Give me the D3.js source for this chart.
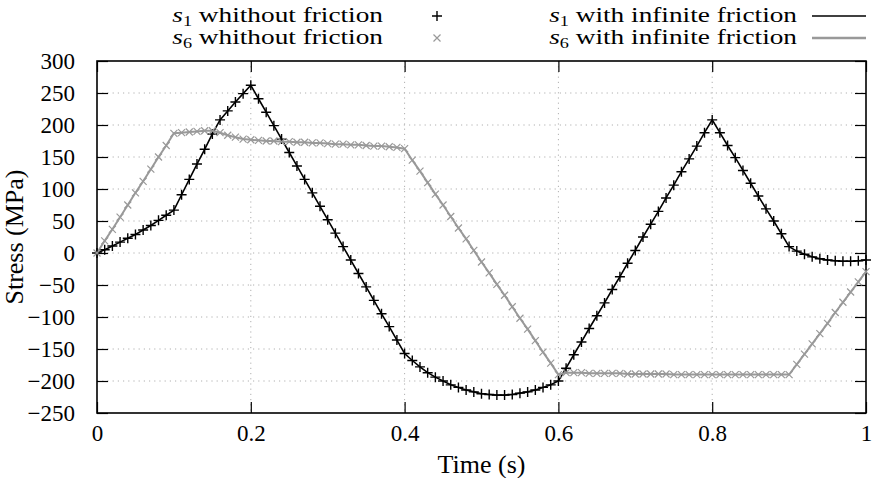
<!DOCTYPE html>
<html lang="en">
<head>
  <meta charset="UTF-8" />
  <title>Stress vs time</title>
  <script src="https://d3js.org/d3.v7.min.js"></script>
  <style>
    body { margin: 0; background: white; }
    svg { display: block; }
  </style>
</head>
<body>
  <div id="chart"></div>

  <script>
    // Data (sampled every 0.01 s)
    const timeStep = 0.01;
    const s1Values = [
      0, 5, 11, 17, 23, 29, 36, 43, 51, 59,
      67, 91, 115, 139, 162, 186, 208, 222, 236, 249,
      262, 241, 220, 199, 178, 157, 136, 115, 94, 73,
      52, 31, 10, -11, -32, -53, -74, -95, -115, -136,
      -157, -168, -178, -187, -194, -200, -206, -210, -214, -217,
      -220, -221, -222, -222, -221, -219, -217, -214, -210, -206,
      -200, -180, -159, -139, -118, -98, -78, -57, -37, -16,
      4, 25, 45, 65, 86, 106, 127, 147, 167, 188,
      208, 188, 168, 149, 129, 109, 89, 69, 50, 30,
      10, 3, -2, -6, -9, -11, -12, -13, -13, -12,
      -11
    ];
    const s6Values = [
      0, 19, 37, 56, 75, 94, 112, 131, 150, 168,
      187, 188, 189, 190, 191, 191, 188, 184, 181, 178,
      177, 176, 175, 175, 174, 174, 173, 173, 172, 172,
      171, 170, 170, 169, 169, 168, 167, 167, 166, 165,
      163, 145, 128, 110, 92, 75, 57, 39, 22, 4,
      -14, -31, -49, -66, -84, -102, -119, -137, -155, -172,
      -190, -187, -187, -187, -188, -188, -188, -188, -188, -189,
      -189, -189, -189, -189, -189, -190, -190, -190, -190, -190,
      -190, -190, -190, -190, -190, -190, -190, -190, -190, -190,
      -190, -174, -158, -142, -126, -110, -93, -77, -61, -45,
      -29
    ];
    const xTicks = [0, 0.2, 0.4, 0.6, 0.8, 1];
    const yTicks = [-250, -200, -150, -100, -50, 0, 50, 100, 150, 200, 250, 300];

    const width = 875, height = 478;
    const margin = { top: 61, right: 9, bottom: 65, left: 97 };
    const black = "#000", gray = "#999";
    const serif = '"Liberation Serif"';

    const svg = d3.select("#chart").append("svg")
      .attr("width", width).attr("height", height);

    const x = d3.scaleLinear().domain([0, 1]).range([margin.left, width - margin.right]);
    const y = d3.scaleLinear().domain([-250, 300]).range([height - margin.bottom, margin.top]);

    const s1 = s1Values.map((v, i) => ({ t: i * timeStep, v }));
    const s6 = s6Values.map((v, i) => ({ t: i * timeStep, v }));

    // grid
    const grid = svg.append("g").attr("stroke", "#b0b0b0").attr("stroke-dasharray", "1.2,4");
    grid.selectAll("line.gx").data(xTicks.slice(1, -1)).enter().append("line")
      .attr("x1", d => x(d)).attr("x2", d => x(d))
      .attr("y1", y(300)).attr("y2", y(-250));
    grid.selectAll("line.gy").data(yTicks.slice(1, -1)).enter().append("line")
      .attr("y1", d => y(d)).attr("y2", d => y(d))
      .attr("x1", x(0)).attr("x2", x(1));

    // axes, ticks pointing inward on all four sides
    const tick = 11;
    const axes = [
      svg.append("g").attr("transform", `translate(${x(0)},0)`)
        .call(d3.axisLeft(y).tickValues(yTicks).tickSize(-tick).tickPadding(22).tickFormat(d3.format("d"))),
      svg.append("g").attr("transform", `translate(${x(1)},0)`)
        .call(d3.axisRight(y).tickValues(yTicks).tickSize(-tick).tickFormat("")),
      svg.append("g").attr("transform", `translate(0,${y(-250)})`)
        .call(d3.axisBottom(x).tickValues(xTicks).tickSize(-tick).tickPadding(12).tickFormat(d => d)),
      svg.append("g").attr("transform", `translate(0,${y(300)})`)
        .call(d3.axisTop(x).tickValues(xTicks).tickSize(-tick).tickFormat(""))
    ];
    axes.forEach(g => g.attr("font-family", "Liberation Serif").attr("font-size", 23));
    svg.selectAll(".domain").remove();
    svg.selectAll(".tick line").attr("stroke", black).attr("stroke-width", 1.2);
    svg.selectAll(".tick text")
      .attr("font-family", "Liberation Serif")
      .style("font-family", serif).style("font-size", "23px").attr("fill", black);

    // frame
    svg.append("rect")
      .attr("x", x(0)).attr("y", y(300))
      .attr("width", x(1) - x(0)).attr("height", y(-250) - y(300))
      .attr("fill", "none").attr("stroke", black).attr("stroke-width", 1.6);

    // axis titles
    svg.append("text").attr("x", (x(0) + x(1)) / 2).attr("y", 473)
      .attr("text-anchor", "middle")
      .style("font-family", serif).style("font-size", "26px").text("Time (s)");
    svg.append("text").attr("transform", `translate(23,${(y(300) + y(-250)) / 2}) rotate(-90)`)
      .attr("text-anchor", "middle")
      .style("font-family", serif).style("font-size", "26px").text("Stress (MPa)");

    // series
    const line = d3.line().x(d => x(d.t)).y(d => y(d.v));

    function plusPath(cx, cy, r) {
      return `M${cx - r},${cy}H${cx + r}M${cx},${cy - r}V${cy + r}`;
    }
    function crossPath(cx, cy, r) {
      return `M${cx - r},${cy - r}L${cx + r},${cy + r}M${cx - r},${cy + r}L${cx + r},${cy - r}`;
    }

    svg.append("path").datum(s1).attr("d", line)
      .attr("fill", "none").attr("stroke", black).attr("stroke-width", 1.6);
    svg.append("path").datum(s6).attr("d", line)
      .attr("fill", "none").attr("stroke", gray).attr("stroke-width", 2);

    svg.append("g").selectAll("path").data(s1).enter().append("path")
      .attr("d", d => plusPath(x(d.t), y(d.v), 5))
      .attr("stroke", black).attr("stroke-width", 1.4);
    svg.append("g").selectAll("path").data(s6).enter().append("path")
      .attr("d", d => crossPath(x(d.t), y(d.v), 3.5))
      .attr("stroke", gray).attr("stroke-width", 1.2);

    // legend (text stretched horizontally like the original)
    function legendLabel(xr, yb, idx, rest) {
      const t = svg.append("text")
        .attr("transform", `translate(${xr},${yb}) scale(1.3,1)`)
        .attr("text-anchor", "end")
        .style("font-family", serif).style("font-size", "21px");
      t.append("tspan").style("font-style", "italic").text("s");
      t.append("tspan").style("font-size", "14px").attr("baseline-shift", "-4").text(idx);
      t.append("tspan").text(" " + rest);
    }
    legendLabel(383, 22, "1", "whithout friction");
    legendLabel(383, 44, "6", "whithout friction");
    legendLabel(797, 22, "1", "with infinite friction");
    legendLabel(797, 44, "6", "with infinite friction");

    svg.append("path").attr("d", plusPath(437, 16, 5))
      .attr("stroke", black).attr("stroke-width", 1.4);
    svg.append("path").attr("d", crossPath(437, 38, 3.5))
      .attr("stroke", gray).attr("stroke-width", 1.2);
    svg.append("line").attr("x1", 812).attr("x2", 866).attr("y1", 16).attr("y2", 16)
      .attr("stroke", black).attr("stroke-width", 1.6);
    svg.append("line").attr("x1", 812).attr("x2", 866).attr("y1", 38).attr("y2", 38)
      .attr("stroke", gray).attr("stroke-width", 2.4);
  </script>
</body>
</html>
